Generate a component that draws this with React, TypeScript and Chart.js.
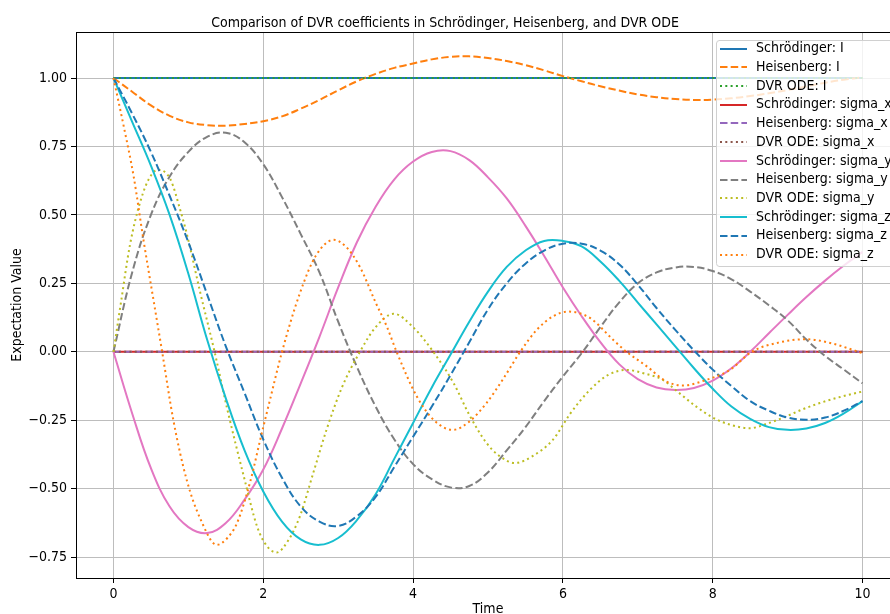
import React, { useEffect, useRef } from "react";
import { Chart, registerables } from "chart.js";

Chart.register(...registerables);

const FONT = "'DejaVu Sans Condensed', 'DejaVu Sans', sans-serif";

const chartTitle = "Comparison of DVR coefficients in Schrödinger, Heisenberg, and DVR ODE";
const xAxisTitle = "Time";
const yAxisTitle = "Expectation Value";

const xTicks = [0, 2, 4, 6, 8, 10];
const yTicks = [-0.75, -0.5, -0.25, 0, 0.25, 0.5, 0.75, 1.0];

const timeGrid = [
  0, 0.25, 0.5, 0.75, 1, 1.25, 1.5, 1.75, 2, 2.25, 2.5, 2.75, 3, 3.25, 3.5, 3.75, 4, 4.25, 4.5, 4.75,
  5, 5.25, 5.5, 5.75, 6, 6.25, 6.5, 6.75, 7, 7.25, 7.5, 7.75, 8, 8.25, 8.5, 8.75, 9, 9.25, 9.5, 9.75, 10,
];
const constTime = [0, 10];

const schI = [1, 1];
const dvrI = [1, 1];
const schSx = [0, 0];
const heisSx = [0, 0];
const dvrSx = [0, 0];

const heisI = [
  1.0, 0.95, 0.9, 0.862, 0.838, 0.828, 0.826, 0.832, 0.842, 0.86, 0.888, 0.92, 0.955, 0.988, 1.015, 1.037,
  1.053, 1.068, 1.077, 1.079, 1.073, 1.062, 1.047, 1.028, 1.007, 0.988, 0.97, 0.954, 0.94, 0.93, 0.923, 0.92,
  0.921, 0.926, 0.934, 0.944, 0.956, 0.969, 0.983, 0.994, 1.002,
];

const schSy = [
  0, -0.225, -0.425, -0.565, -0.64, -0.662, -0.625, -0.54, -0.43, -0.28, -0.115, 0.055, 0.235, 0.4, 0.53,
  0.63, 0.695, 0.73, 0.733, 0.7, 0.637, 0.56, 0.46, 0.35, 0.235, 0.13, 0.035, -0.045, -0.1, -0.13, -0.139,
  -0.132, -0.105, -0.06, 0.0, 0.068, 0.135, 0.2, 0.26, 0.315, 0.365,
];

const heisSy = [
  0, 0.29, 0.5, 0.64, 0.73, 0.785, 0.8, 0.765, 0.685, 0.565, 0.43, 0.29, 0.11, -0.055, -0.2, -0.32, -0.41,
  -0.465, -0.495, -0.49, -0.44, -0.36, -0.275, -0.18, -0.09, -0.005, 0.09, 0.18, 0.25, 0.29, 0.308, 0.31,
  0.295, 0.265, 0.22, 0.17, 0.115, 0.045, -0.015, -0.065, -0.115,
];

const schSz = [
  1.0, 0.84, 0.68, 0.5, 0.285, 0.045, -0.17, -0.36, -0.51, -0.62, -0.685, -0.705, -0.68, -0.615, -0.52,
  -0.39, -0.26, -0.13, -0.01, 0.11, 0.22, 0.31, 0.37, 0.405, 0.405, 0.385, 0.33, 0.26, 0.18, 0.1, 0.02,
  -0.06, -0.135, -0.2, -0.245, -0.275, -0.285, -0.28, -0.26, -0.225, -0.18,
];

const heisSz = [
  1.0, 0.87, 0.73, 0.57, 0.4, 0.21, 0.02, -0.15, -0.32, -0.46, -0.565, -0.62, -0.636, -0.6, -0.53, -0.42,
  -0.31, -0.2, -0.085, 0.035, 0.155, 0.25, 0.322, 0.37, 0.395, 0.395, 0.37, 0.32, 0.245, 0.16, 0.08,
  0.005, -0.065, -0.125, -0.18, -0.215, -0.24, -0.248, -0.24, -0.215, -0.18,
];

const dvrSyTime = [
  0, 0.1, 0.22, 0.36, 0.48, 0.6, 0.76, 0.9, 0.98, 1.16, 1.35, 1.52, 1.74, 1.92, 2.05, 2.18, 2.33, 2.49, 2.67,
  2.85, 3.05, 3.29, 3.5, 3.74, 4.0, 4.27, 4.54, 4.75, 4.98, 5.15, 5.36, 5.6, 5.87, 6.1, 6.36, 6.6, 6.85, 7.1,
  7.33, 7.55, 7.78, 8.0, 8.23, 8.49, 8.75, 8.98, 9.2, 9.43, 9.7, 10,
];
const dvrSy = [
  0, 0.18, 0.39, 0.55, 0.635, 0.665, 0.63, 0.51, 0.43, 0.215, 0.0, -0.21, -0.455, -0.64, -0.71, -0.733,
  -0.69, -0.6, -0.44, -0.28, -0.13, 0.0, 0.09, 0.139, 0.09, 0.0, -0.114, -0.23, -0.333, -0.38, -0.406, -0.38,
  -0.32, -0.225, -0.139, -0.085, -0.066, -0.08, -0.102, -0.15, -0.2, -0.24, -0.266, -0.279, -0.26, -0.236,
  -0.21, -0.187, -0.165, -0.145,
];

const dvrSzTime = [
  0, 0.14, 0.27, 0.4, 0.54, 0.65, 0.8, 0.98, 1.16, 1.38, 1.52, 1.65, 1.83, 1.96, 2.09, 2.25, 2.49, 2.7, 2.94,
  3.1, 3.29, 3.5, 3.65, 3.78, 4.05, 4.28, 4.53, 4.75, 4.98, 5.2, 5.43, 5.65, 5.87, 6.07, 6.36, 6.67, 6.85,
  7.12, 7.38, 7.6, 7.92, 8.23, 8.52, 8.9, 9.25, 9.6, 10,
];
const dvrSz = [
  1.0, 0.82, 0.64, 0.41, 0.18, 0.0, -0.25, -0.47, -0.61, -0.705, -0.68, -0.625, -0.47, -0.32, -0.175, 0.0,
  0.215, 0.35, 0.409, 0.385, 0.31, 0.18, 0.092, 0.0, -0.163, -0.25, -0.285, -0.255, -0.187, -0.1, 0.0, 0.08,
  0.13, 0.147, 0.124, 0.044, 0.0, -0.053, -0.108, -0.123, -0.102, -0.066, 0.0, 0.035, 0.046, 0.03, -0.005,
];

const SOLID: number[] = [];
const DASHED = [7.5, 3.2];
const DOTTED = [2, 3.3];

const seriesDefs = [
  { label: "Schrödinger: I", time: constTime, values: schI, color: "#1f77b4", dash: SOLID, mono: false },
  { label: "Heisenberg: I", time: timeGrid, values: heisI, color: "#ff7f0e", dash: DASHED, mono: false },
  { label: "DVR ODE: I", time: constTime, values: dvrI, color: "#2ca02c", dash: DOTTED, mono: false },
  { label: "Schrödinger: sigma_x", time: constTime, values: schSx, color: "#d62728", dash: SOLID, mono: false },
  { label: "Heisenberg: sigma_x", time: constTime, values: heisSx, color: "#9467bd", dash: DASHED, mono: false },
  { label: "DVR ODE: sigma_x", time: constTime, values: dvrSx, color: "#8c564b", dash: DOTTED, mono: false },
  { label: "Schrödinger: sigma_y", time: timeGrid, values: schSy, color: "#e377c2", dash: SOLID, mono: false },
  { label: "Heisenberg: sigma_y", time: timeGrid, values: heisSy, color: "#7f7f7f", dash: DASHED, mono: false },
  { label: "DVR ODE: sigma_y", time: dvrSyTime, values: dvrSy, color: "#bcbd22", dash: DOTTED, mono: true },
  { label: "Schrödinger: sigma_z", time: timeGrid, values: schSz, color: "#17becf", dash: SOLID, mono: false },
  { label: "Heisenberg: sigma_z", time: timeGrid, values: heisSz, color: "#1f77b4", dash: DASHED, mono: false },
  { label: "DVR ODE: sigma_z", time: dvrSzTime, values: dvrSz, color: "#ff7f0e", dash: DOTTED, mono: true },
];

const LINE_W = 2;
const GRID = "#bdbdbd";

const decorPlugin = {
  id: "decor",
  beforeDraw(chart: any) {
    const { ctx, width, height } = chart;
    ctx.save();
    ctx.fillStyle = "#ffffff";
    ctx.fillRect(0, 0, width, height);
    ctx.restore();
  },
  afterDraw(chart: any) {
    const { ctx, chartArea } = chart;
    const { left, right, top, bottom } = chartArea;
    ctx.save();
    ctx.strokeStyle = "#000";
    ctx.lineWidth = 1;
    ctx.strokeRect(Math.round(left) + 0.5, Math.round(top) + 0.5, Math.round(right - left), Math.round(bottom - top));
    ctx.fillStyle = "#000";
    ctx.font = `14px ${FONT}`;
    ctx.textAlign = "center";
    ctx.textBaseline = "alphabetic";
    ctx.fillText(chartTitle, 445, 26.5);
    ctx.fillText(xAxisTitle, (left + right) / 2, 612.5);
    ctx.save();
    ctx.translate(21, (top + bottom) / 2);
    ctx.rotate(-Math.PI / 2);
    ctx.fillText(yAxisTitle, 0, 0);
    ctx.restore();
    const lx = 716;
    const ly = 40;
    const lw = 180;
    const lh = 226;
    const r = 3;
    ctx.beginPath();
    ctx.moveTo(lx + r, ly + 0.5);
    ctx.lineTo(lx + lw - r, ly + 0.5);
    ctx.arcTo(lx + lw, ly + 0.5, lx + lw, ly + r, r);
    ctx.lineTo(lx + lw, ly + lh - r);
    ctx.arcTo(lx + lw, ly + lh + 0.5, lx + lw - r, ly + lh + 0.5, r);
    ctx.lineTo(lx + r, ly + lh + 0.5);
    ctx.arcTo(lx + 0.5, ly + lh + 0.5, lx + 0.5, ly + lh - r, r);
    ctx.lineTo(lx + 0.5, ly + r);
    ctx.arcTo(lx + 0.5, ly + 0.5, lx + r, ly + 0.5, r);
    ctx.closePath();
    ctx.fillStyle = "rgba(255,255,255,0.8)";
    ctx.fill();
    ctx.strokeStyle = "#d0d0d0";
    ctx.lineWidth = 1;
    ctx.stroke();
    const datasets = chart.data.datasets;
    ctx.textAlign = "left";
    ctx.textBaseline = "middle";
    ctx.font = `14px ${FONT}`;
    for (let i = 0; i < datasets.length; i++) {
      const d = datasets[i];
      const y = 48.5 + i * 18.73;
      ctx.beginPath();
      ctx.setLineDash(d.borderDash || []);
      ctx.lineCap = "butt";
      ctx.strokeStyle = d.borderColor;
      ctx.lineWidth = LINE_W;
      ctx.moveTo(720, Math.round(y));
      ctx.lineTo(747, Math.round(y));
      ctx.stroke();
      ctx.setLineDash([]);
      ctx.fillStyle = "#000";
      ctx.fillText(d.label, 756, y);
    }
    ctx.restore();
  },
};

function fmtY(v: number) {
  const s = Math.abs(v).toFixed(2);
  return v < 0 ? "\u2212" + s : s;
}

export default function App() {
  const ref = useRef<HTMLCanvasElement>(null);
  useEffect(() => {
    const canvas = ref.current;
    if (!canvas) return;
    const datasets = seriesDefs.map((s, i) => ({
      label: s.label,
      data: s.time.map((t, k) => ({ x: t, y: s.values[k] })),
      borderColor: s.color,
      backgroundColor: s.color,
      borderWidth: LINE_W,
      borderDash: s.dash,
      borderCapStyle: "butt",
      pointRadius: 0,
      pointHoverRadius: 0,
      fill: false,
      cubicInterpolationMode: s.mono ? "monotone" : "default",
      tension: s.mono ? 0 : 0.4,
      order: -i,
    }));
    const chart = new Chart(canvas, {
      type: "line",
      data: { datasets } as any,
      plugins: [decorPlugin],
      options: {
        animation: false,
        responsive: false,
        maintainAspectRatio: false,
        devicePixelRatio: 1,
        layout: { padding: { left: 0, right: 10, top: 32, bottom: 0 } },
        plugins: { legend: { display: false }, tooltip: { enabled: false }, title: { display: false } },
        events: [],
        scales: {
          x: {
            type: "linear",
            min: -0.5,
            max: 10.5,
            afterBuildTicks: (s: any) => {
              s.ticks = xTicks.map((v) => ({ value: v }));
            },
            afterFit: (s: any) => {
              s.height = 36;
            },
            ticks: {
              autoSkip: false,
              maxRotation: 0,
              padding: 3,
              color: "#000",
              font: { family: FONT, size: 14 },
              callback: (v: any) => String(v),
            },
            grid: { color: GRID, lineWidth: 1, tickColor: "#000", tickLength: 5, drawTicks: true },
            border: { display: false },
          },
          y: {
            type: "linear",
            min: -0.826,
            max: 1.168,
            afterBuildTicks: (s: any) => {
              s.ticks = yTicks.map((v) => ({ value: v }));
            },
            afterFit: (s: any) => {
              s.width = 76;
            },
            ticks: {
              autoSkip: false,
              padding: 4,
              color: "#000",
              font: { family: FONT, size: 14 },
              callback: (v: any) => fmtY(Number(v)),
            },
            grid: { color: GRID, lineWidth: 1, tickColor: "#000", tickLength: 5, drawTicks: true },
            border: { display: false },
          },
        },
      } as any,
    });
    return () => chart.destroy();
  }, []);
  return (
    <div style={{ position: "absolute", left: 0, top: 0, width: 890, height: 614, overflow: "hidden", background: "#fff" }}>
      <canvas ref={ref} width={910} height={614} style={{ display: "block", width: 910, height: 614 }} />
    </div>
  );
}
